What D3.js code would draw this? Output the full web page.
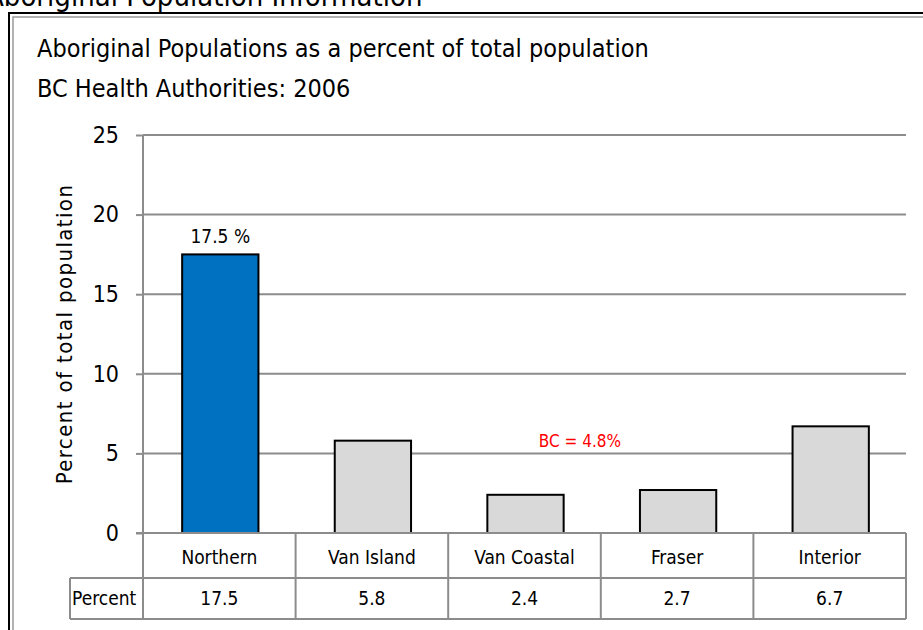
<!DOCTYPE html>
<html>
<head>
<meta charset="utf-8">
<script src="https://cdn.jsdelivr.net/npm/d3@7"></script>
<style>
  body { margin: 0; background: #fff; }
  svg text { font-family: "Liberation Sans Narrow", "DejaVu Sans Condensed", "Liberation Sans", sans-serif; fill: #000; }
</style>
</head>
<body>
<div id="chart"></div>
<script>
const categories = ["Northern", "Van Island", "Van Coastal", "Fraser", "Interior"];
const percents = [17.5, 5.8, 2.4, 2.7, 6.7];
const yTicks = [0, 5, 10, 15, 20, 25];
const bcAverage = 4.8;

const width = 923;
const height = 630;
const plot = { left: 143, right: 906, top: 135, bottom: 533 };
const rowCat = 578, rowEnd = 619, rowLabelLeft = 70;

const svg = d3.select("#chart")
  .append("svg")
  .attr("width", width)
  .attr("height", height);

// page header, cut off at the top like the slide it came from
svg.append("text")
  .attr("x", -14)
  .attr("y", 6)
  .style("font-size", "29px")
  .text("Aboriginal Population Information");

// frame around the chart
svg.append("path")
  .attr("d", `M9,${height + 5}V13H${width + 5}`)
  .attr("fill", "none")
  .attr("stroke", "#000")
  .attr("stroke-width", 2);
svg.append("path")
  .attr("d", `M13,${height + 5}V17H${width + 5}`)
  .attr("fill", "none")
  .attr("stroke", "#999")
  .attr("stroke-width", 1.5);

// titles
svg.append("text").attr("x", 37).attr("y", 57).style("font-size", "25px")
  .text("Aboriginal Populations as a percent of total population");
svg.append("text").attr("x", 37).attr("y", 97).style("font-size", "25px")
  .text("BC Health Authorities: 2006");

const x = d3.scaleBand()
  .domain(categories)
  .range([plot.left, plot.right])
  .paddingInner(0)
  .paddingOuter(0);

const y = d3.scaleLinear()
  .domain([0, 25])
  .range([plot.bottom, plot.top]);

// gridlines
svg.append("g")
  .selectAll("line")
  .data(yTicks.filter(d => d > 0))
  .join("line")
  .attr("x1", plot.left)
  .attr("x2", plot.right)
  .attr("y1", d => y(d))
  .attr("y2", d => y(d))
  .attr("stroke", "#8c8c8c")
  .attr("stroke-width", 2);

// y axis
const yAxis = d3.axisLeft(y).tickValues(yTicks).tickSize(7).tickPadding(17);
const yg = svg.append("g")
  .attr("transform", `translate(${plot.left},0)`)
  .call(yAxis);
yg.select(".domain").remove();
yg.selectAll(".tick line").attr("stroke", "#8c8c8c").attr("stroke-width", 2);
yg.selectAll(".tick text")
  .style("font-size", "23px")
  .attr("font-family", null);

svg.append("text")
  .attr("transform", `translate(72,${(plot.top + plot.bottom) / 2}) rotate(-90)`)
  .attr("text-anchor", "middle")
  .style("font-size", "22px")
  .style("letter-spacing", "1.4px")
  .text("Percent of total population");

// bars
svg.append("g")
  .selectAll("rect")
  .data(categories)
  .join("rect")
  .attr("x", d => x(d) + x.bandwidth() * 0.25 + 1)
  .attr("width", x.bandwidth() * 0.5)
  .attr("y", (d, i) => y(percents[i]))
  .attr("height", (d, i) => y(0) - y(percents[i]))
  .attr("fill", (d, i) => i === 0 ? "#0070c0" : "#d9d9d9")
  .attr("stroke", "#000")
  .attr("stroke-width", 2);

// label on the first bar
svg.append("text")
  .attr("x", x(categories[0]) + x.bandwidth() / 2 + 1)
  .attr("y", y(percents[0]) - 11)
  .attr("text-anchor", "middle")
  .style("font-size", "19px")
  .text(percents[0] + " %");

// BC average note
svg.append("text")
  .attr("x", 580)
  .attr("y", y(bcAverage) - 10)
  .attr("text-anchor", "middle")
  .style("font-size", "17px")
  .style("fill", "#ff0000")
  .text("BC = " + bcAverage + "%");

// axis line, running down through the table
const tableStroke = "#8c8c8c";
svg.append("line")
  .attr("x1", plot.left).attr("x2", plot.left)
  .attr("y1", plot.top).attr("y2", rowEnd)
  .attr("stroke", tableStroke).attr("stroke-width", 2);

// data table
const tbl = svg.append("g");
tbl.append("line")
  .attr("x1", plot.left - 7).attr("x2", plot.right)
  .attr("y1", plot.bottom).attr("y2", plot.bottom)
  .attr("stroke", tableStroke).attr("stroke-width", 2);
tbl.append("line")
  .attr("x1", rowLabelLeft).attr("x2", plot.right)
  .attr("y1", rowCat).attr("y2", rowCat)
  .attr("stroke", tableStroke).attr("stroke-width", 2);
tbl.append("line")
  .attr("x1", rowLabelLeft).attr("x2", plot.right)
  .attr("y1", rowEnd).attr("y2", rowEnd)
  .attr("stroke", tableStroke).attr("stroke-width", 2);
tbl.append("line")
  .attr("x1", rowLabelLeft).attr("x2", rowLabelLeft)
  .attr("y1", rowCat).attr("y2", rowEnd)
  .attr("stroke", tableStroke).attr("stroke-width", 2);
tbl.selectAll(".col-line")
  .data(categories)
  .join("line")
  .attr("class", "col-line")
  .attr("x1", d => x(d) + x.bandwidth())
  .attr("x2", d => x(d) + x.bandwidth())
  .attr("y1", plot.bottom).attr("y2", rowEnd)
  .attr("stroke", tableStroke).attr("stroke-width", 2);

tbl.selectAll(".cat-label")
  .data(categories)
  .join("text")
  .attr("class", "cat-label")
  .attr("x", d => x(d) + x.bandwidth() / 2)
  .attr("y", 564)
  .attr("text-anchor", "middle")
  .style("font-size", "19px")
  .text(d => d);

tbl.selectAll(".val-label")
  .data(categories)
  .join("text")
  .attr("class", "val-label")
  .attr("x", d => x(d) + x.bandwidth() / 2)
  .attr("y", 605)
  .attr("text-anchor", "middle")
  .style("font-size", "19px")
  .text((d, i) => percents[i].toFixed(1));

tbl.append("text")
  .attr("x", rowLabelLeft + 2)
  .attr("y", 605)
  .style("font-size", "19px")
  .text("Percent");
</script>
</body>
</html>
